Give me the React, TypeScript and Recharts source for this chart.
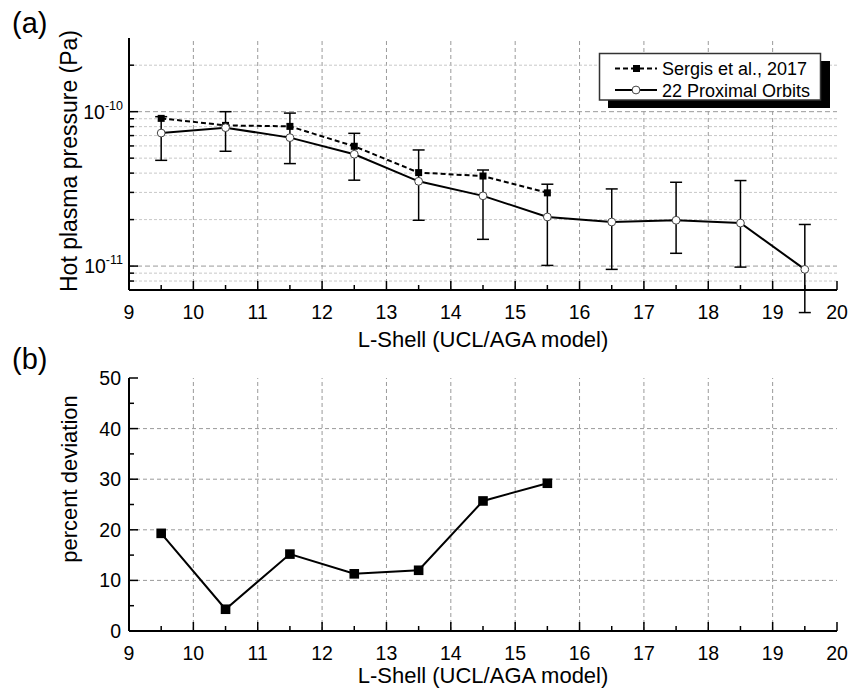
import React from 'react';
import { ComposedChart, LineChart, Line, XAxis, YAxis, ErrorBar, ReferenceLine } from 'recharts';

// ---------- data ----------
const lShell = [9.5, 10.5, 11.5, 12.5, 13.5, 14.5, 15.5, 16.5, 17.5, 18.5, 19.5];
const sergisPressure = [9.05e-11, 8.15e-11, 8.03e-11, 5.97e-11, 4.03e-11, 3.83e-11, 2.98e-11, null, null, null, null];
const proximalPressure = [7.27e-11, 7.88e-11, 6.79e-11, 5.3e-11, 3.54e-11, 2.85e-11, 2.08e-11, 1.93e-11, 1.98e-11, 1.9e-11, 9.52e-12];
const proximalLow = [4.84e-11, 5.54e-11, 4.61e-11, 3.6e-11, 1.98e-11, 1.49e-11, 1.01e-11, 9.52e-12, 1.21e-11, 9.85e-12, 5e-12];
const proximalHigh = [9.28e-11, 1.0e-10, 9.79e-11, 7.24e-11, 5.65e-11, 4.19e-11, 3.39e-11, 3.16e-11, 3.49e-11, 3.58e-11, 1.86e-11];

const lShellDev = [9.5, 10.5, 11.5, 12.5, 13.5, 14.5, 15.5];
const percentDeviation = [19.3, 4.3, 15.2, 11.3, 12.0, 25.7, 29.2];

const xTicks = [9, 9.5, 10, 10.5, 11, 11.5, 12, 12.5, 13, 13.5, 14, 14.5, 15, 15.5, 16, 16.5, 17, 17.5, 18, 18.5, 19, 19.5, 20];
const xGrid = [10, 11, 12, 13, 14, 15, 16, 17, 18, 19];
const logTicks = [8e-12, 9e-12, 1e-11, 2e-11, 3e-11, 4e-11, 5e-11, 6e-11, 7e-11, 8e-11, 9e-11, 1e-10, 2e-10];
const logGridMajor = [1e-11, 1e-10];
const logGridMinor = [8e-12, 9e-12, 2e-11, 3e-11, 4e-11, 5e-11, 6e-11, 7e-11, 8e-11, 9e-11, 2e-10];
const devTicks = [0, 5, 10, 15, 20, 25, 30, 35, 40, 45, 50];
const devGrid = [10, 20, 30, 40];

const pressureData = lShell.map((l, i) => ({
  l,
  sergis: sergisPressure[i],
  proximal: proximalPressure[i],
  err: [proximalPressure[i] - proximalLow[i], proximalHigh[i] - proximalPressure[i]],
}));
const devData = lShellDev.map((l, i) => ({ l, dev: percentDeviation[i] }));

// ---------- layout ----------
const W = 852;
const FONT = '"Liberation Sans", Arial, Helvetica, sans-serif';
const TICK_FS = 19.5;
const PL = 129;
const PR = 837;
const T1 = 38, B1 = 290; // chart 1 plot top/bottom
const T2 = 33, B2 = 286; // chart 2 plot top/bottom (chart 2 offset by 345)

const isInt = (v: number) => Math.abs(v - Math.round(v)) < 1e-9;
const isDecade = (v: number) => {
  const l = Math.log10(v);
  return Math.abs(l - Math.round(l)) < 1e-6;
};

const makeXBottomTick = (pb: number) => (props: any) => {
  const { x, payload } = props;
  const v = payload.value;
  const major = isInt(v);
  return (
    <g>
      <line x1={x} x2={x} y1={pb} y2={pb - (major ? 9 : 5)} stroke="#000" strokeWidth={1.5} />
      {major && (
        <text x={x} y={pb + 29} textAnchor="middle" fontSize={TICK_FS} fontFamily={FONT} fill="#000">
          {v}
        </text>
      )}
    </g>
  );
};
const makeXTopTick = (pt: number) => (props: any) => {
  const { x, payload } = props;
  const major = isInt(payload.value);
  return <line x1={x} x2={x} y1={pt} y2={pt + (major ? 9 : 5)} stroke="#000" strokeWidth={1.5} />;
};

const LogLeftTick = (props: any) => {
  const { y, payload } = props;
  const v = payload.value;
  const major = isDecade(v);
  const exp = Math.round(Math.log10(v));
  return (
    <g>
      <line x1={PL} x2={PL + (major ? 9 : 5)} y1={y} y2={y} stroke="#000" strokeWidth={1.5} />
      {major && (
        <text x={PL - 6} y={y + 7} textAnchor="end" fontSize={19.5} fontFamily={FONT} fill="#000">
          <tspan>10</tspan>
          <tspan fontSize={12.5} dy={-9}>{exp}</tspan>
        </text>
      )}
    </g>
  );
};
const LogRightTick = (props: any) => {
  const { y, payload } = props;
  const major = isDecade(payload.value);
  return <line x1={PR} x2={PR - (major ? 9 : 5)} y1={y} y2={y} stroke="#000" strokeWidth={1.5} />;
};
const DevLeftTick = (props: any) => {
  const { y, payload } = props;
  const v = payload.value;
  const major = v % 10 === 0;
  return (
    <g>
      <line x1={PL} x2={PL + (major ? 9 : 5)} y1={y} y2={y} stroke="#000" strokeWidth={1.5} />
      {major && (
        <text x={PL - 8} y={y + 7} textAnchor="end" fontSize={TICK_FS} fontFamily={FONT} fill="#000">
          {v}
        </text>
      )}
    </g>
  );
};
const DevRightTick = (props: any) => {
  const { y, payload } = props;
  const major = payload.value % 10 === 0;
  return <line x1={PR} x2={PR - (major ? 9 : 5)} y1={y} y2={y} stroke="#000" strokeWidth={1.5} />;
};

const SmallSquare = (props: any) => {
  const { cx, cy, index } = props;
  if (cx == null || cy == null || isNaN(cy)) return <g key={`ss${index}`} />;
  return <rect key={`ss${index}`} x={cx - 3.5} y={cy - 3.5} width={7} height={7} fill="#000" />;
};
const OpenCircle = (props: any) => {
  const { cx, cy, index } = props;
  if (cx == null || cy == null || isNaN(cy)) return <g key={`oc${index}`} />;
  return <circle key={`oc${index}`} cx={cx} cy={cy} r={3.9} fill="#fff" stroke="#444" strokeWidth={1} />;
};
const BigSquare = (props: any) => {
  const { cx, cy, index } = props;
  if (cx == null || cy == null) return <g key={`bs${index}`} />;
  return <rect key={`bs${index}`} x={cx - 4.8} y={cy - 4.8} width={9.6} height={9.6} fill="#000" />;
};

const frameAxisLine = { stroke: '#000', strokeWidth: 2 };

export default function App() {
  return (
    <div style={{ position: 'absolute', left: 0, top: 0, width: W, height: 691, background: '#fff', fontFamily: FONT }}>
      <div style={{ position: 'absolute', left: 0, top: 0 }}>
        <ComposedChart width={W} height={345} data={pressureData} margin={{ top: T1, right: W - PR, left: PL - 60, bottom: 25 }}>
          <XAxis dataKey="l" type="number" domain={[9, 20]} ticks={xTicks} interval={0} height={30}
            axisLine={frameAxisLine} tickLine={false} tick={makeXBottomTick(B1)} />
          <XAxis xAxisId="top" orientation="top" dataKey="l" type="number" domain={[9, 20]} ticks={xTicks} interval={0}
            height={0} axisLine={frameAxisLine} tickLine={false} tick={makeXTopTick(T1)} />
          <YAxis type="number" scale="log" domain={[7e-12, 3e-10]} allowDataOverflow ticks={logTicks} interval={0}
            width={60} axisLine={frameAxisLine} tickLine={false} tick={<LogLeftTick />} />
          <YAxis yAxisId="right" orientation="right" type="number" scale="log" domain={[7e-12, 3e-10]} allowDataOverflow
            ticks={logTicks} interval={0} width={0} axisLine={frameAxisLine} tickLine={false} tick={<LogRightTick />} />
          {xGrid.map((v) => (
            <ReferenceLine key={`vx${v}`} x={v} stroke="#9a9a9a" strokeWidth={1} strokeDasharray="4 3" />
          ))}
          {logGridMinor.map((v) => (
            <ReferenceLine key={`hmn${v}`} y={v} stroke="#c8c8c8" strokeWidth={1} strokeDasharray="3 2" />
          ))}
          {logGridMajor.map((v) => (
            <ReferenceLine key={`hmj${v}`} y={v} stroke="#9a9a9a" strokeWidth={1} strokeDasharray="5 3" />
          ))}
          <Line dataKey="sergis" stroke="#000" strokeWidth={2} strokeDasharray="5 3" dot={SmallSquare}
            activeDot={false} isAnimationActive={false} />
          <Line dataKey="proximal" stroke="#000" strokeWidth={2} dot={OpenCircle} activeDot={false} isAnimationActive={false}>
            <ErrorBar dataKey="err" width={6} strokeWidth={1.5} stroke="#000" direction="y" />
          </Line>
        </ComposedChart>
      </div>
      <div style={{ position: 'absolute', left: 0, top: 345 }}>
        <LineChart width={W} height={346} data={devData} margin={{ top: T2, right: W - PR, left: PL - 60, bottom: 30 }}>
          <XAxis dataKey="l" type="number" domain={[9, 20]} ticks={xTicks} interval={0} height={30}
            axisLine={frameAxisLine} tickLine={false} tick={makeXBottomTick(B2)} />
          <XAxis xAxisId="top" orientation="top" dataKey="l" type="number" domain={[9, 20]} ticks={xTicks} interval={0}
            height={0} axisLine={frameAxisLine} tickLine={false} tick={makeXTopTick(T2)} />
          <YAxis type="number" domain={[0, 50]} ticks={devTicks} interval={0} width={60}
            axisLine={frameAxisLine} tickLine={false} tick={<DevLeftTick />} />
          <YAxis yAxisId="right" orientation="right" type="number" domain={[0, 50]} ticks={devTicks} interval={0}
            width={0} axisLine={frameAxisLine} tickLine={false} tick={<DevRightTick />} />
          {xGrid.map((v) => (
            <ReferenceLine key={`vx${v}`} x={v} stroke="#9a9a9a" strokeWidth={1} strokeDasharray="4 3" />
          ))}
          {devGrid.map((v) => (
            <ReferenceLine key={`hy${v}`} y={v} stroke="#9a9a9a" strokeWidth={1} strokeDasharray="4 3" />
          ))}
          <Line dataKey="dev" stroke="#000" strokeWidth={2} dot={BigSquare} activeDot={false} isAnimationActive={false} />
        </LineChart>
      </div>
      <svg width={W} height={691} style={{ position: 'absolute', left: 0, top: 0, pointerEvents: 'none' }}>
        <g fontFamily={FONT} fill="#000">
          <text x={12} y={33} fontSize={29}>(a)</text>
          <text x={12} y={369} fontSize={29}>(b)</text>
          <text x={(PL + PR) / 2} y={347} fontSize={22} textAnchor="middle">L-Shell (UCL/AGA model)</text>
          <text x={(PL + PR) / 2} y={683} fontSize={22} textAnchor="middle">L-Shell (UCL/AGA model)</text>
          <text x={0} y={0} fontSize={23} textAnchor="middle" transform="translate(77,161) rotate(-90)">
            Hot plasma pressure (Pa)
          </text>
          <text x={0} y={0} fontSize={22} textAnchor="middle" transform="translate(77,479) rotate(-90)">
            percent deviation
          </text>
        </g>
        {/* legend */}
        <rect x={608} y={61} width={222} height={47} fill="#000" />
        <rect x={599.5} y={53.5} width={221} height={46.5} fill="#fff" stroke="#333" strokeWidth={1.5} />
        <line x1={615} x2={657} y1={68.5} y2={68.5} stroke="#000" strokeWidth={2} strokeDasharray="5 3" />
        <rect x={633} y={65} width={7} height={7} fill="#000" />
        <line x1={615} x2={657} y1={90} y2={90} stroke="#000" strokeWidth={2} />
        <circle cx={636} cy={90} r={3.9} fill="#fff" stroke="#444" strokeWidth={1} />
        <text x={662} y={75} fontSize={18} fontFamily={FONT} fill="#000">Sergis et al., 2017</text>
        <text x={662} y={96.5} fontSize={18} fontFamily={FONT} fill="#000">22 Proximal Orbits</text>
      </svg>
    </div>
  );
}
